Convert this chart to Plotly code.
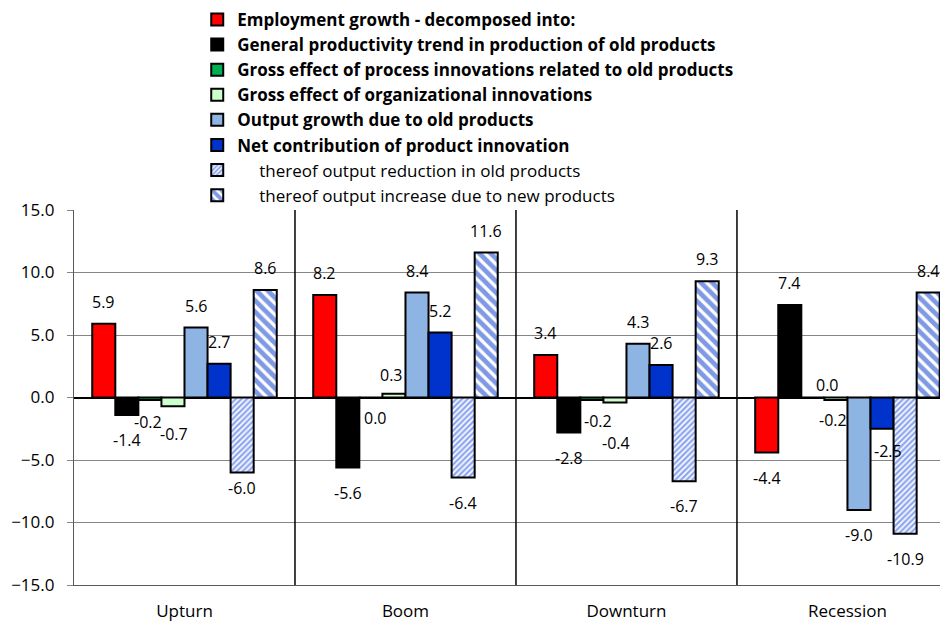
import plotly.graph_objects as go

phases = ["Upturn", "Boom", "Downturn", "Recession"]

employment = [5.9, 8.2, 3.4, -4.4]
productivity_trend = [-1.4, -5.6, -2.8, 7.4]
process_innov = [-0.2, 0.0, -0.2, 0.0]
org_innov = [-0.7, 0.3, -0.4, -0.2]
output_old = [5.6, 8.4, 4.3, -9.0]
product_innov = [2.7, 5.2, 2.6, -2.5]
reduction_old = [-6.0, -6.4, -6.7, -10.9]
increase_new = [8.6, 11.6, 9.3, 8.4]

series = [
    ("<b>Employment growth - decomposed into:</b>", employment, "#FF0000", None),
    ("<b>General productivity trend in production of old products</b>", productivity_trend, "#000000", None),
    ("<b>Gross effect of process innovations related to old products</b>", process_innov, "#00B050", None),
    ("<b>Gross effect of organizational innovations</b>", org_innov, "#CCFFCC", None),
    ("<b>Output growth due to old products</b>", output_old, "#8DB4E2", None),
    ("<b>Net contribution of product innovation</b>", product_innov, "#0033CC", None),
    ("\u00a0\u00a0\u00a0\u00a0\u00a0thereof output reduction in old products", reduction_old, "#FFFFFF",
     dict(shape="/", fgcolor="#1F4FE0", bgcolor="#FFFFFF", size=4, solidity=0.6)),
    ("\u00a0\u00a0\u00a0\u00a0\u00a0thereof output increase due to new products", increase_new, "#FFFFFF",
     dict(shape="\\", fgcolor="#0033CC", bgcolor="#FFFFFF", size=8, solidity=0.6)),
]

FONT = "Open Sans"
BARGAP = 0.165
n = len(series)
x_idx = list(range(len(phases)))

fig = go.Figure()
for name, vals, color, pat in series:
    marker = dict(color=color, line=dict(color="black", width=2))
    if pat:
        marker["pattern"] = pat
    fig.add_trace(go.Bar(x=x_idx, y=vals, name=name, marker=marker))

# label placement (px) -- default above/below, a few hand moved like in the original
pos_shift, neg_shift = 22, -25
label_nudge = {
    (2, 0): (-2, -22), (3, 0): (1, -28), (6, 0): (0, -15),
    (2, 1): (5, -20), (3, 1): (-2, 19),
    (2, 2): (6, -21), (3, 2): (1, -40),
    (2, 3): (15, 13), (3, 3): (-3, -20), (5, 3): (6, -22),
}
bw = (1 - BARGAP) / n
for i, (name, vals, color, pat) in enumerate(series):
    for g, v in enumerate(vals):
        xpos = g - (1 - BARGAP) / 2 + (i + 0.5) * bw
        dx, dy = label_nudge.get((i, g), (0, pos_shift if v > 0 else neg_shift))
        fig.add_annotation(x=xpos, y=v, text=f"{v:.1f}", showarrow=False,
                           xshift=dx, yshift=dy, yanchor="middle",
                           font=dict(family=FONT, size=16, color="black"))

for b in [0.5, 1.5, 2.5]:
    fig.add_shape(type="line", x0=b, x1=b, y0=0, y1=1, xref="x", yref="paper",
                  line=dict(color="black", width=1.5))

# page body adds 8px, margins compensate for it
fig.update_layout(
    width=948, height=624,
    barmode="group", bargap=BARGAP, bargroupgap=0,
    plot_bgcolor="white", paper_bgcolor="white",
    margin=dict(l=66, r=8, t=202, b=47, autoexpand=False),
    font=dict(family=FONT, size=17, color="black"),
    legend=dict(x=0.141, y=1.555, xanchor="left", yanchor="top",
                font=dict(family=FONT, size=17, color="black"),
                bgcolor="rgba(0,0,0,0)", itemclick=False),
    showlegend=True,
)
fig.update_xaxes(range=[-0.5, 3.455], tickvals=x_idx, ticktext=phases,
                 showgrid=False, showline=True, linecolor="#595959", linewidth=1.2,
                 ticks="", zeroline=False, ticklabelstandoff=10, tickfont=dict(size=17),
                 automargin=False)
fig.update_yaxes(range=[-15, 15], dtick=5, tickformat=".1f",
                 showgrid=True, gridcolor="#868686", gridwidth=1,
                 zeroline=True, zerolinecolor="black", zerolinewidth=1.5,
                 showline=True, linecolor="#595959", linewidth=1.2,
                 ticks="outside", ticklen=6, tickcolor="#868686",
                 ticklabelstandoff=9, tickfont=dict(size=17), automargin=False)

fig.write_html("out.html")
